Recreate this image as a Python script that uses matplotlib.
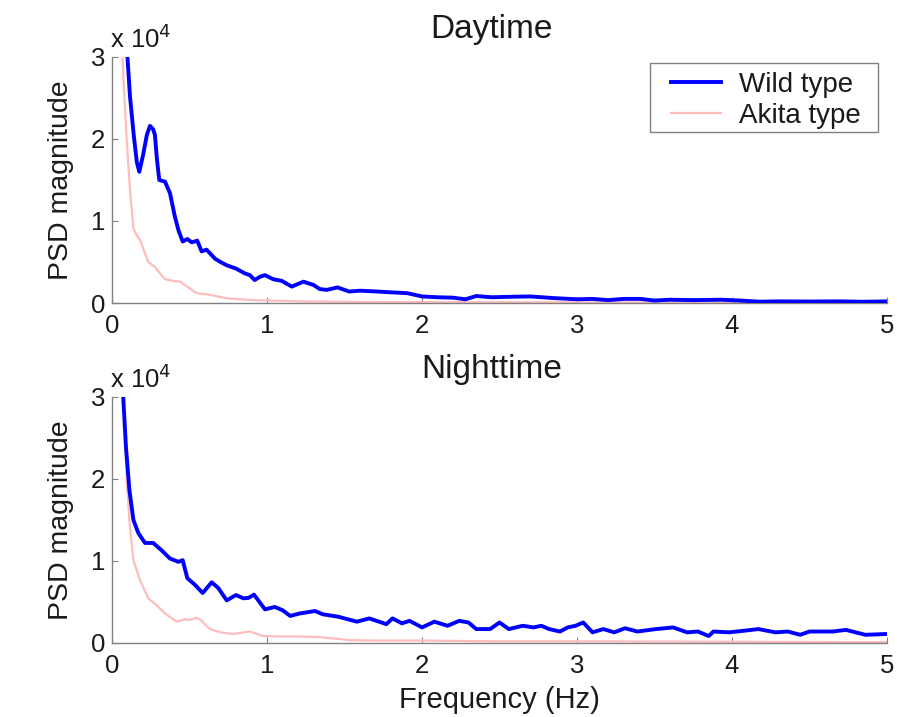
import matplotlib
matplotlib.use("Agg")
import matplotlib.pyplot as plt
from matplotlib.ticker import FuncFormatter
from matplotlib.patches import Rectangle

plt.rcParams['font.family'] = ['Liberation Sans', 'DejaVu Sans']

# ---- data (frequency in Hz, PSD magnitude) ----
day_wild_f = [0.098, 0.116, 0.14, 0.16, 0.176, 0.2, 0.225, 0.245, 0.265, 0.277, 0.29, 0.305,
              0.342, 0.374, 0.406, 0.43, 0.456, 0.486, 0.514, 0.55, 0.578, 0.61, 0.665, 0.70,
              0.74, 0.80, 0.858, 0.89, 0.92, 0.955, 0.987, 1.04, 1.095, 1.16, 1.235, 1.30,
              1.34, 1.385, 1.455, 1.53, 1.6, 1.71, 1.80, 1.905, 2.0, 2.1, 2.2, 2.28, 2.35,
              2.45, 2.55, 2.70, 2.85, 3.0, 3.1, 3.2, 3.3, 3.41, 3.5, 3.6, 3.75, 3.93, 4.05,
              4.18, 4.3, 4.5, 4.7, 4.85, 5.0]
day_wild_p = [30500, 25200, 20500, 17200, 16000, 18000, 20500, 21600, 21200, 20500, 17500, 15000,
              14800, 13400, 10500, 8800, 7500, 7800, 7400, 7600, 6300, 6500, 5400, 5000,
              4600, 4200, 3600, 3400, 2800, 3200, 3400, 2900, 2700, 2000, 2600, 2200,
              1700, 1600, 1900, 1400, 1500, 1400, 1300, 1200, 800, 700, 650, 450, 850,
              700, 750, 800, 600, 450, 500, 350, 500, 500, 300, 400, 350, 400, 300,
              160, 200, 180, 200, 150, 200]

day_akita_f = [0.065, 0.08, 0.095, 0.116, 0.138, 0.16, 0.18, 0.21, 0.234, 0.277, 0.31, 0.342,
               0.39, 0.44, 0.50, 0.546, 0.632, 0.74, 0.89, 1.2, 1.6, 2.0, 3.0, 4.0, 5.0]
day_akita_p = [31000, 25000, 19900, 13800, 9100, 8200, 7700, 6200, 5000, 4400, 3600, 2900,
               2700, 2600, 1800, 1200, 1000, 570, 370, 200, 120, 100, 80, 60, 50]

night_wild_f = [0.073, 0.09, 0.112, 0.138, 0.17, 0.213, 0.266, 0.32, 0.374, 0.428, 0.456, 0.486,
                0.535, 0.585, 0.643, 0.686, 0.74, 0.80, 0.847, 0.88, 0.916, 0.987, 1.05, 1.10,
                1.15, 1.21, 1.31, 1.36, 1.46, 1.58, 1.66, 1.77, 1.81, 1.87, 1.92, 2.0, 2.08,
                2.165, 2.24, 2.30, 2.35, 2.44, 2.50, 2.56, 2.65, 2.72, 2.77, 2.82, 2.89, 2.94,
                2.99, 3.04, 3.10, 3.17, 3.24, 3.31, 3.39, 3.51, 3.62, 3.71, 3.78, 3.85, 3.88,
                3.98, 4.08, 4.17, 4.28, 4.36, 4.44, 4.50, 4.65, 4.735, 4.86, 5.0]
night_wild_p = [29800, 23900, 18700, 15000, 13400, 12200, 12200, 11300, 10300, 9900, 10100, 7900,
                7100, 6100, 7400, 6700, 5200, 5850, 5450, 5500, 5900, 4100, 4400, 4000,
                3300, 3600, 3900, 3500, 3200, 2600, 3000, 2300, 3000, 2400, 2700, 1900, 2600,
                2100, 2700, 2500, 1700, 1700, 2500, 1700, 2100, 1900, 2100, 1700, 1400, 1900,
                2100, 2500, 1300, 1700, 1300, 1800, 1400, 1700, 1900, 1300, 1400, 850, 1400,
                1300, 1500, 1700, 1300, 1400, 1000, 1400, 1400, 1600, 1000, 1100]

night_akita_f = [0.073, 0.095, 0.112, 0.138, 0.18, 0.234, 0.288, 0.342, 0.417, 0.47, 0.50, 0.546,
                 0.578, 0.632, 0.70, 0.78, 0.89, 0.976, 1.1, 1.2, 1.35, 1.535, 1.7, 2.0, 2.5,
                 3.0, 4.0, 5.0]
night_akita_p = [29800, 19900, 15000, 10100, 7700, 5450, 4600, 3600, 2600, 2900, 2800, 3100,
                 2700, 1700, 1300, 1100, 1400, 850, 800, 800, 700, 350, 300, 300, 200,
                 200, 150, 100]

titles = ["Daytime", "Nighttime"]
series_labels = ["Wild type", "Akita type"]
x_ticks = [0, 1, 2, 3, 4, 5]
y_ticks = [0, 10000, 20000, 30000]

BLUE = '#0000ff'
PINK = '#ffbcbc'
GREY = '#808080'
TXT = '#1a1a1a'

fig = plt.figure(figsize=(8.97, 7.17), dpi=100)
W, H = 897, 717
ax_top = fig.add_axes([112 / W, (717 - 303) / H, 775 / W, 246 / H])
ax_bot = fig.add_axes([112 / W, (717 - 643) / H, 775 / W, 246 / H])

datasets = [(day_wild_f, day_wild_p, day_akita_f, day_akita_p),
            (night_wild_f, night_wild_p, night_akita_f, night_akita_p)]

for i, (ax, (wf, wp, af, ap)) in enumerate(zip([ax_top, ax_bot], datasets)):
    ax.plot(af, ap, color=PINK, lw=1.6, label=series_labels[1], zorder=2)
    ax.plot(wf, wp, color=BLUE, lw=2.8, label=series_labels[0], zorder=3)
    ax.set_xlim(0, 5)
    ax.set_ylim(0, 30000)
    ax.set_xticks(x_ticks)
    ax.set_yticks(y_ticks)
    ax.xaxis.set_major_formatter(FuncFormatter(lambda v, p: f"{v:g}"))
    ax.yaxis.set_major_formatter(FuncFormatter(lambda v, p: f"{v / 1e4:g}"))
    for s in ['top', 'right']:
        ax.spines[s].set_visible(False)
    for s in ['left', 'bottom']:
        ax.spines[s].set_color(GREY)
        ax.spines[s].set_linewidth(1.0)
    ax.tick_params(axis='both', direction='in', length=4, width=0.8, color=GREY,
                   labelsize=18.5, labelcolor=TXT)
    ax.tick_params(axis='x', pad=8)
    ax.tick_params(axis='y', pad=5)
    ax.set_title(titles[i], fontsize=24, pad=14, x=0.49, color=TXT)
    ax.set_ylabel("PSD magnitude", fontsize=20.5, labelpad=12, color=TXT)
    ax.text(-0.003, 1.037, r"x 10$^4$", transform=ax.transAxes, ha='left', va='baseline',
            fontsize=18.5, color=TXT)

# legend box (frame drawn separately to match the reference padding)
ax_top.add_patch(Rectangle((0.694, 0.695), 0.988 - 0.694, 0.976 - 0.695,
                           transform=ax_top.transAxes, facecolor='white', edgecolor=GREY,
                           linewidth=1.0, zorder=4, clip_on=False))
handles, labels = ax_top.get_legend_handles_labels()
leg = ax_top.legend(handles[::-1], labels[::-1], loc='upper right',
                    bbox_to_anchor=(0.973, 0.963), borderaxespad=0, fontsize=20,
                    frameon=False, handlelength=1.8, handletextpad=0.65, borderpad=0.2,
                    labelspacing=0.18)
leg.set_zorder(5)
for t in leg.get_texts():
    t.set_color(TXT)

ax_bot.set_xlabel("Frequency (Hz)", fontsize=21, labelpad=6, color=TXT)

fig.savefig("out.png", dpi=100)
